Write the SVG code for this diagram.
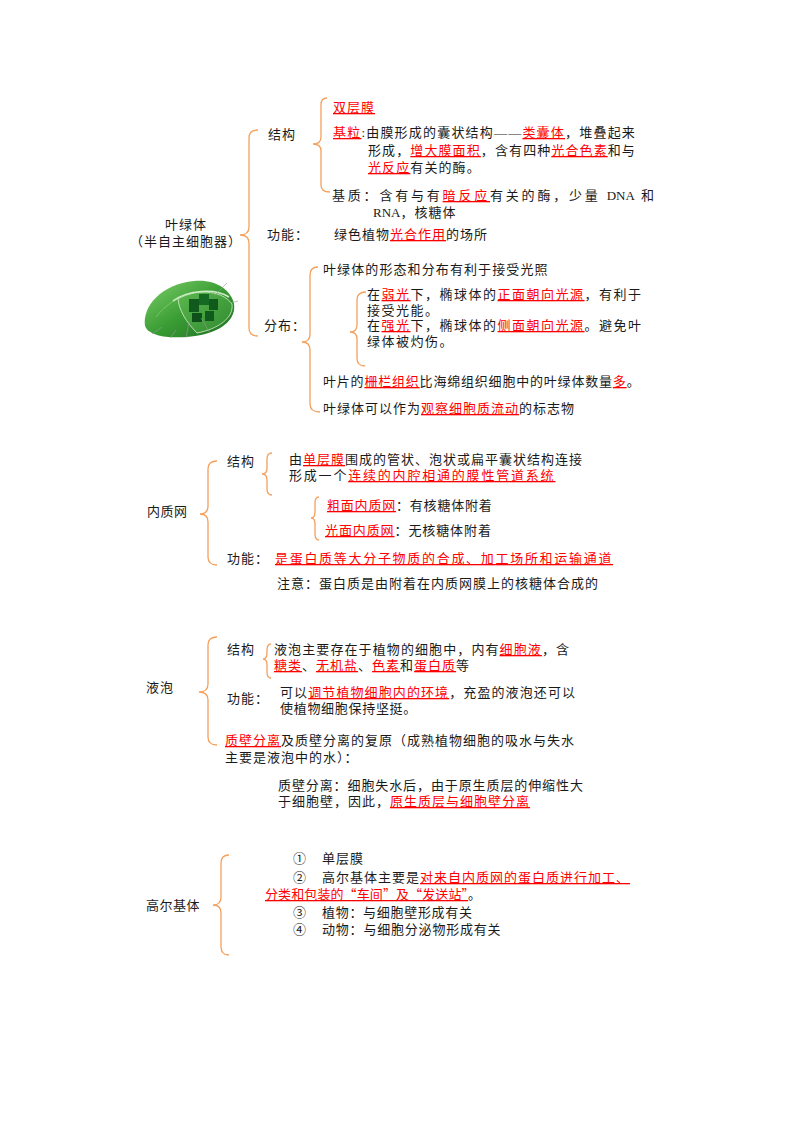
<svg xmlns="http://www.w3.org/2000/svg" width="800" height="1132" viewBox="0 0 800 1132">
<defs>
<style>
.t{font-family:"Liberation Serif","Noto Sans CJK SC",serif;font-size:13px;fill:#1a1a1a;letter-spacing:1px}
.c{font-family:"Noto Sans CJK SC",sans-serif}
.n{font-family:"Noto Sans CJK SC",sans-serif;font-size:13px;fill:#1a1a1a}
.r{fill:#f00;text-decoration:underline}
.l{letter-spacing:0}
.b{fill:none;stroke:#f5a05c;stroke-width:1.3}
.ll{stroke:#9a9a9a;stroke-width:0.6;fill:none}
</style>
<linearGradient id="g1" x1="0" y1="0" x2="1" y2="1">
<stop offset="0" stop-color="#7fcf6a"/>
<stop offset="0.5" stop-color="#3b9e35"/>
<stop offset="1" stop-color="#1d6e22"/>
</linearGradient>
<linearGradient id="g2" x1="0" y1="0" x2="1" y2="1">
<stop offset="0" stop-color="#5cb84f"/>
<stop offset="1" stop-color="#2f8a2e"/>
</linearGradient>
</defs>
<rect width="800" height="1132" fill="#fff"/>

<g id="connectors">
<path class="b" d="M258,130 Q249,130 249,138 L249,227 Q249,235 240,235 Q249,235 249,243 L249,328 Q249,336 258,336"/>
<path class="b" d="M327,98 Q321,98 321,105 L321,137 Q321,144 313,144 Q321,144 321,151 L321,185 Q321,192 330,192"/>
<path class="b" d="M318,267 Q310,267 310,275 L310,334 Q310,342 302,342 Q310,342 310,350 L310,404 Q310,412 320,412"/>
<path class="b" d="M366,292 Q357,292 357,300 L357,325 Q357,332 350,332 Q357,332 357,339 L357,358 Q357,366 365,366"/>
<path class="b" d="M217,461 Q208,461 208,469 L208,506 Q208,514 200,514 Q208,514 208,522 L208,557 Q208,565 217,565"/>
<path class="b" d="M272,453 Q267,453 267,459 L267,468 Q267,474 262,474 Q267,474 267,480 L267,489 Q267,495 272,495"/>
<path class="b" d="M319,497 Q315,497 315,503 L315,512 Q315,518 311,518 Q315,518 315,524 L315,534 Q315,540 319,540"/>
<path class="b" d="M217,637 Q208,637 208,645 L208,684 Q208,692 199,692 Q208,692 208,700 L208,737 Q208,745 217,745"/>
<path class="b" d="M271,644 Q267,644 267,650 L267,653 Q267,659 263,659 Q267,659 267,665 L267,672 Q267,678 271,678"/>
<path class="b" d="M229,855 Q221,855 221,863 L221,897 Q221,905 213,905 Q221,905 221,913 L221,947 Q221,955 229,955"/>
</g>

<g id="chloroplast">
<text class="t" x="186" y="229" text-anchor="middle">叶绿体</text>
<text class="t" x="186" y="246" text-anchor="middle">（半自主细胞器）</text>
</g>

<g id="chloroplast-image">
<path d="M145,326 C142,306 162,284 194,281 C216,279 231,290 234,304 C236,318 224,330 201,335 C180,339 150,339 145,326 Z" fill="url(#g1)"/>
<path d="M178,299 C194,289 221,289 232,304 C234,318 218,329 197,333 C186,322 179,310 178,299 Z" fill="url(#g2)" stroke="#d6efcf" stroke-width="0.8"/>
<path d="M173,301 C188,290 215,288 229,297" stroke="#cdebc4" stroke-width="1.6" fill="none"/>
<path d="M156,317 C166,304 178,297 191,294" stroke="#9ad68c" stroke-width="0.8" fill="none" opacity="0.7"/>
<rect x="189" y="299" width="10" height="13" fill="#0f5a1c"/>
<rect x="199" y="294" width="10" height="11" fill="#146a22"/>
<rect x="209" y="299" width="9" height="11" fill="#0f5a1c"/>
<rect x="192" y="313" width="10" height="9" fill="#0c4f18"/>
<rect x="205" y="311" width="9" height="10" fill="#0f5a1c"/>
<path class="ll" d="M214,296 L227,283 M231,303 L238,301 M162,327 L152,334 M176,330 L170,338 M189,322 L186,338 M201,318 L210,333"/>
</g>

<g id="cp-structure">
<text class="t" x="268" y="139">结构</text>
<text class="t" x="333" y="112"><tspan class="r">双层膜</tspan></text>
<text class="t" x="333" y="137" style="letter-spacing:1.2px"><tspan class="r">基粒</tspan>:由膜形成的囊状结构——<tspan class="r">类囊体</tspan>，堆叠起来</text>
<text class="t" x="368" y="155" style="letter-spacing:1.1px">形成，<tspan class="r">增大膜面积</tspan>，含有四种<tspan class="r">光合色素</tspan>和与</text>
<text class="t" x="368" y="172" style="letter-spacing:1.1px"><tspan class="r">光反应</tspan>有关的酶。</text>
<text class="t" x="332" y="200" style="letter-spacing:2.8px">基质：含有与有<tspan class="r">暗反应</tspan>有关的酶，少量 <tspan class="l">DNA</tspan> 和</text>
<text class="t" x="373" y="217"><tspan class="l">RNA</tspan>，核糖体</text>
</g>

<g id="cp-function">
<text class="t" x="267" y="239">功能：</text>
<text class="t" x="334" y="239">绿色植物<tspan class="r">光合作用</tspan>的场所</text>
</g>

<g id="cp-distribution">
<text class="t" x="264" y="330">分布：</text>
<text class="t" x="323" y="274" style="letter-spacing:1.1px">叶绿体的形态和分布有利于接受光照</text>
<text class="t" x="367" y="299" style="letter-spacing:1.5px">在<tspan class="r">弱光</tspan>下，椭球体的<tspan class="r">正面朝向光源</tspan>，有利于</text>
<text class="t" x="367" y="315" style="letter-spacing:1.5px">接受光能。</text>
<text class="t" x="367" y="330" style="letter-spacing:1.5px">在<tspan class="r">强光</tspan>下，椭球体的<tspan class="r">侧面朝向光源</tspan>。避免叶</text>
<text class="t" x="367" y="346" style="letter-spacing:1.5px">绿体被灼伤。</text>
<text class="t" x="323" y="386" style="letter-spacing:0.8px">叶片的<tspan class="r">栅栏组织</tspan>比海绵组织细胞中的叶绿体数量<tspan class="r">多</tspan>。</text>
<text class="t" x="323" y="413">叶绿体可以作为<tspan class="r">观察细胞质流动</tspan>的标志物</text>
</g>

<g id="er">
<text class="t" x="147" y="516" style="letter-spacing:0.5px">内质网</text>
<text class="t" x="227" y="466">结构</text>
<text class="t" x="289" y="464">由<tspan class="r">单层膜</tspan>围成的管状、泡状或扁平囊状结构连接</text>
<text class="t" x="289" y="480" style="letter-spacing:1.8px">形成一个<tspan class="r">连续的内腔相通的膜性管道系统</tspan></text>
<text class="t" x="327" y="510" style="letter-spacing:0.8px"><tspan class="r">粗面内质网</tspan>：有核糖体附着</text>
<text class="t" x="325" y="535" style="letter-spacing:0.9px"><tspan class="r">光面内质网</tspan>：无核糖体附着</text>
<text class="t" x="227" y="563">功能：</text>
<text class="t" x="275" y="563" style="letter-spacing:1.7px"><tspan class="r">是蛋白质等大分子物质的合成、加工场所和运输通道</tspan></text>
<text class="t" x="277" y="588">注意：蛋白质是由附着在内质网膜上的核糖体合成的</text>
</g>

<g id="vacuole">
<text class="t" x="146" y="692">液泡</text>
<text class="t" x="227" y="654">结构</text>
<text class="t" x="274" y="654" style="letter-spacing:1.1px">液泡主要存在于植物的细胞中，内有<tspan class="r">细胞液</tspan>，含</text>
<text class="t" x="274" y="670"><tspan class="r">糖类</tspan>、<tspan class="r">无机盐</tspan>、<tspan class="r">色素</tspan>和<tspan class="r">蛋白质</tspan>等</text>
<text class="t" x="227" y="703">功能：</text>
<text class="t" x="280" y="697" style="letter-spacing:1.1px">可以<tspan class="r">调节植物细胞内的环境</tspan>，充盈的液泡还可以</text>
<text class="t" x="280" y="713" style="letter-spacing:0.7px">使植物细胞保持坚挺。</text>
<text class="t" x="225" y="745"><tspan class="r">质壁分离</tspan>及质壁分离的复原（成熟植物细胞的吸水与失水</text>
<text class="t" x="225" y="762">主要是液泡中的水）：</text>
<text class="t" x="278" y="790" style="letter-spacing:0.9px">质壁分离：细胞失水后，由于原生质层的伸缩性大</text>
<text class="t" x="278" y="806">于细胞壁，因此，<tspan class="r">原生质层与细胞壁分离</tspan></text>
</g>

<g id="golgi">
<text class="t" x="146" y="910" style="letter-spacing:0.5px">高尔基体</text>
<text class="n" x="293" y="863">①</text>
<text class="t" x="322" y="863">单层膜</text>
<text class="n" x="293" y="882">②</text>
<text class="t" x="322" y="882">高尔基体主要是<tspan class="r">对来自内质网的蛋白质进行加工、</tspan></text>
<text class="t c" x="265" y="899" style="letter-spacing:0.1px"><tspan class="r">分类和包装的“车间”及“发送站”</tspan>。</text>
<text class="n" x="293" y="917">③</text>
<text class="t" x="322" y="917" style="letter-spacing:0.7px">植物：与细胞壁形成有关</text>
<text class="n" x="293" y="934">④</text>
<text class="t" x="322" y="934" style="letter-spacing:0.8px">动物：与细胞分泌物形成有关</text>
</g>
</svg>
